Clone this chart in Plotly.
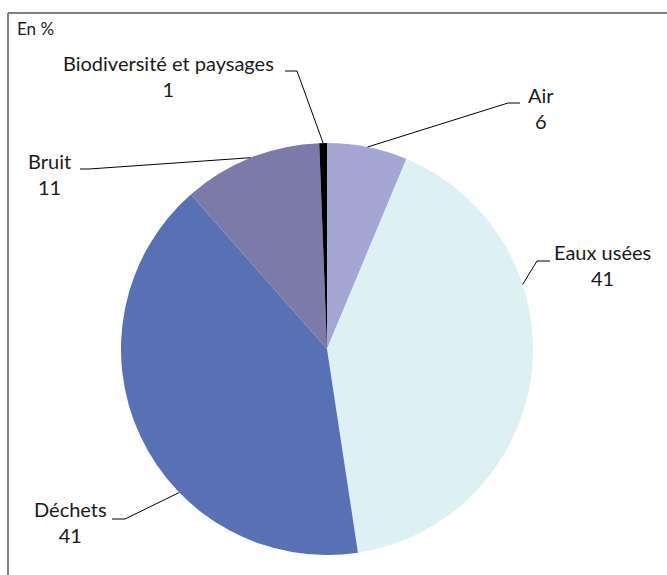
import math
import plotly.graph_objects as go

# ---- data ----
categories = ["Air", "Eaux usées", "Déchets", "Bruit", "Biodiversité et paysages"]
values = [6.3, 41.3, 40.9, 10.9, 0.6]
colors = ["#a5a6d3", "#ddf0f3", "#5870b4", "#7b7aa9", "#000000"]
unit_label = "En %"

# ---- layout constants (pixels) ----
W, H = 667, 575
CX, CY, R = 327, 349, 206
FONT = "Lato, 'Open Sans', sans-serif"

# per-label styling: fraction along slice for leader start, elbow, horizontal end,
# label block centre
label_style = {
    "Air": dict(frac=0.5, elbow=(508, 103), hend=(520, 103), pos=(541, 108)),
    "Eaux usées": dict(frac=0.33, elbow=(537, 261), hend=(550, 261), pos=(602, 265)),
    "Déchets": dict(frac=0.37, elbow=(125, 519), hend=(112, 519), pos=(70, 522)),
    "Bruit": dict(frac=0.5, elbow=(89, 169), hend=(80, 169), pos=(49, 174)),
    "Biodiversité et paysages": dict(frac=0.5, elbow=(297, 71), hend=(285, 71), pos=(168, 76)),
}


def px(x):
    return x / W


def py(y):
    return 1 - y / H


fig = go.Figure()
fig.add_trace(go.Pie(
    labels=categories,
    values=values,
    sort=False,
    direction="clockwise",
    rotation=0,
    marker=dict(colors=colors, line=dict(width=0)),
    textinfo="none",
    hoverinfo="label+value",
    showlegend=False,
    domain=dict(x=[px(CX - R), px(CX + R)], y=[py(CY + R), py(CY - R)]),
))

total = sum(values)
shapes = []
annotations = []
cum = 0.0
for cat, v in zip(categories, values):
    st = label_style[cat]
    a0 = cum / total * 2 * math.pi
    a1 = (cum + v) / total * 2 * math.pi
    ang = a0 + st["frac"] * (a1 - a0)
    cum += v
    sx = CX + R * math.sin(ang)
    sy = CY - R * math.cos(ang)
    ex, ey = st["elbow"]
    hx, hy = st["hend"]
    shapes.append(dict(type="line", xref="paper", yref="paper",
                       x0=px(sx), y0=py(sy), x1=px(ex), y1=py(ey),
                       line=dict(color="black", width=1)))
    shapes.append(dict(type="line", xref="paper", yref="paper",
                       x0=px(ex), y0=py(ey), x1=px(hx), y1=py(hy),
                       line=dict(color="black", width=1)))
    lx, ly = st["pos"]
    annotations.append(dict(text=f"{cat}<br>{v:.0f}", x=px(lx), y=py(ly),
                            xref="paper", yref="paper", align="center",
                            xanchor="center", yanchor="middle", showarrow=False,
                            font=dict(family=FONT, size=20, color="#1a1a1a")))

# frame (top and left edges)
shapes.append(dict(type="line", xref="paper", yref="paper", x0=px(8), y0=py(13), x1=px(667), y1=py(13),
                   line=dict(color="#808080", width=2)))
shapes.append(dict(type="line", xref="paper", yref="paper", x0=px(8), y0=py(13), x1=px(8), y1=py(575),
                   line=dict(color="#808080", width=2)))

annotations.append(dict(text=unit_label, x=px(15), y=py(29), xref="paper", yref="paper",
                        xanchor="left", yanchor="middle", showarrow=False,
                        font=dict(family=FONT, size=17, color="#1a1a1a")))

fig.update_layout(
    width=W, height=H,
    margin=dict(l=0, r=0, t=0, b=0),
    paper_bgcolor="white", plot_bgcolor="white",
    shapes=shapes, annotations=annotations,
)

fig.write_html("out.html", config={"displayModeBar": False},
               post_script="document.body.style.margin='0';")
